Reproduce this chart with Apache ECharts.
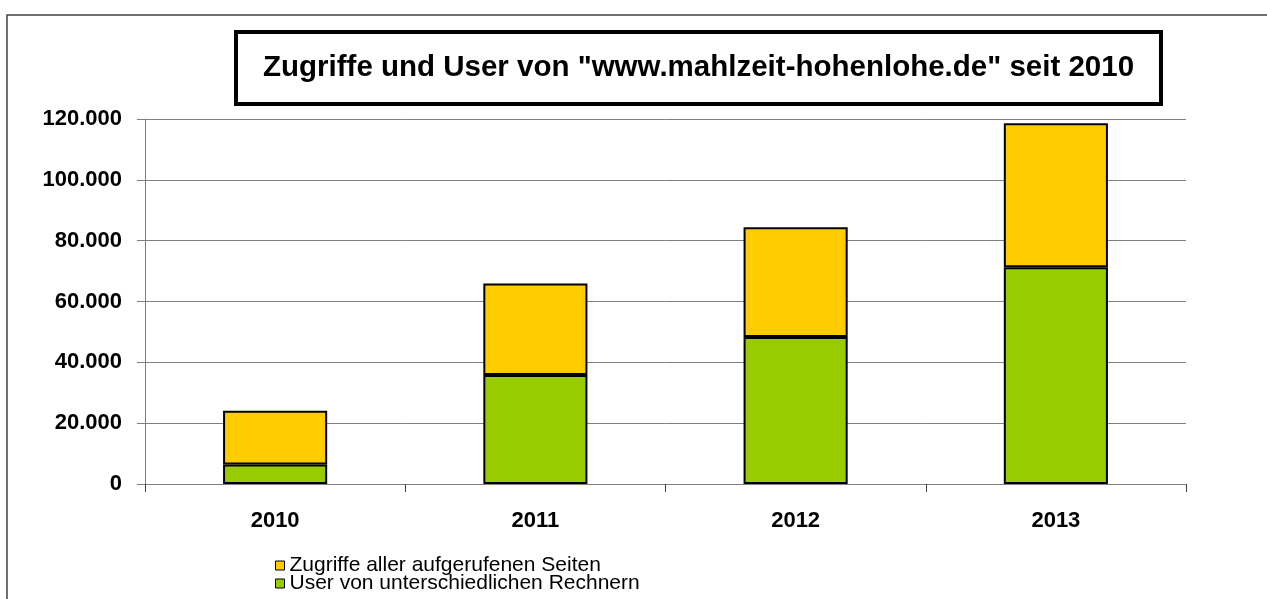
<!DOCTYPE html>
<html>
<head>
<meta charset="utf-8">
<title>Zugriffe und User</title>
<script src="https://cdn.jsdelivr.net/npm/echarts@6/dist/echarts.min.js"></script>
<style>
  html, body { margin: 0; padding: 0; background: #fff; }
  #main { width: 1267px; height: 599px; }
</style>
</head>
<body>
<div id="main"></div>
<script>
// Jahre (Kategorien)
var years = ['2010', '2011', '2012', '2013'];
// User von unterschiedlichen Rechnern (unterer Teil)
var userValues = [6400, 35800, 48300, 71300];
// Zugriffe aller aufgerufenen Seiten (gestapelt oben drauf)
var zugriffeValues = [17700, 30100, 36100, 47300];
// Achsen-Ticks
var yTicks = [0, 20000, 40000, 60000, 80000, 100000, 120000];

var nameZugriffe = 'Zugriffe aller aufgerufenen Seiten';
var nameUser = 'User von unterschiedlichen Rechnern';
var font = "'Liberation Sans', Arial, sans-serif";

// 1000er-Trennzeichen mit Punkt
function fmt(v) {
    return String(v).replace(/\B(?=(\d{3})+(?!\d))/g, '.');
}

var myChart = echarts.init(document.getElementById('main'));

myChart.setOption({
    animation: false,
    backgroundColor: '#fff',
    title: {
        text: 'Zugriffe und User von "www.mahlzeit-hohenlohe.de" seit 2010',
        left: 236,
        top: 32,
        padding: [21, 27],
        borderColor: '#000',
        borderWidth: 4,
        textStyle: {
            fontFamily: font,
            fontSize: 29.5,
            fontWeight: 'bold',
            color: '#000'
        }
    },
    graphic: [{
        type: 'rect',
        shape: { x: 7, y: 15, width: 1400, height: 800 },
        style: { fill: null, stroke: '#404040', lineWidth: 1.5 },
        z: -1
    }],
    legend: {
        orient: 'vertical',
        left: 275,
        top: 555,
        height: 80,
        padding: 0,
        itemWidth: 9,
        itemHeight: 9,
        itemGap: -3,
        icon: 'rect',
        data: [nameZugriffe, nameUser],
        itemStyle: { borderColor: '#000', borderWidth: 1 },
        textStyle: {
            fontFamily: font,
            fontSize: 21,
            lineHeight: 18,
            color: '#000'
        }
    },
    grid: {
        left: 145,
        right: 81,
        top: 119,
        bottom: 115
    },
    xAxis: {
        type: 'category',
        data: years,
        axisLine: { lineStyle: { color: '#808080', width: 1 } },
        axisTick: { show: true, length: 8, lineStyle: { color: '#404040' } },
        axisLabel: {
            margin: 26,
            fontFamily: font,
            fontSize: 22,
            fontWeight: 'bold',
            color: '#000'
        }
    },
    yAxis: {
        type: 'value',
        min: yTicks[0],
        max: yTicks[yTicks.length - 1],
        interval: yTicks[1] - yTicks[0],
        axisLine: { show: true, lineStyle: { color: '#808080', width: 1 } },
        axisTick: { show: true, length: 8, lineStyle: { color: '#808080' } },
        splitLine: { lineStyle: { color: '#808080', width: 1 } },
        axisLabel: {
            margin: 23,
            fontFamily: font,
            fontSize: 22,
            fontWeight: 'bold',
            color: '#000',
            formatter: fmt
        }
    },
    series: [
        {
            name: nameUser,
            type: 'bar',
            stack: 'gesamt',
            barWidth: '40%',
            data: userValues,
            itemStyle: { color: '#99CC00', borderColor: '#000', borderWidth: 2 }
        },
        {
            name: nameZugriffe,
            type: 'bar',
            stack: 'gesamt',
            barWidth: '40%',
            data: zugriffeValues,
            itemStyle: { color: '#FFCC00', borderColor: '#000', borderWidth: 2 }
        }
    ]
});
</script>
</body>
</html>
